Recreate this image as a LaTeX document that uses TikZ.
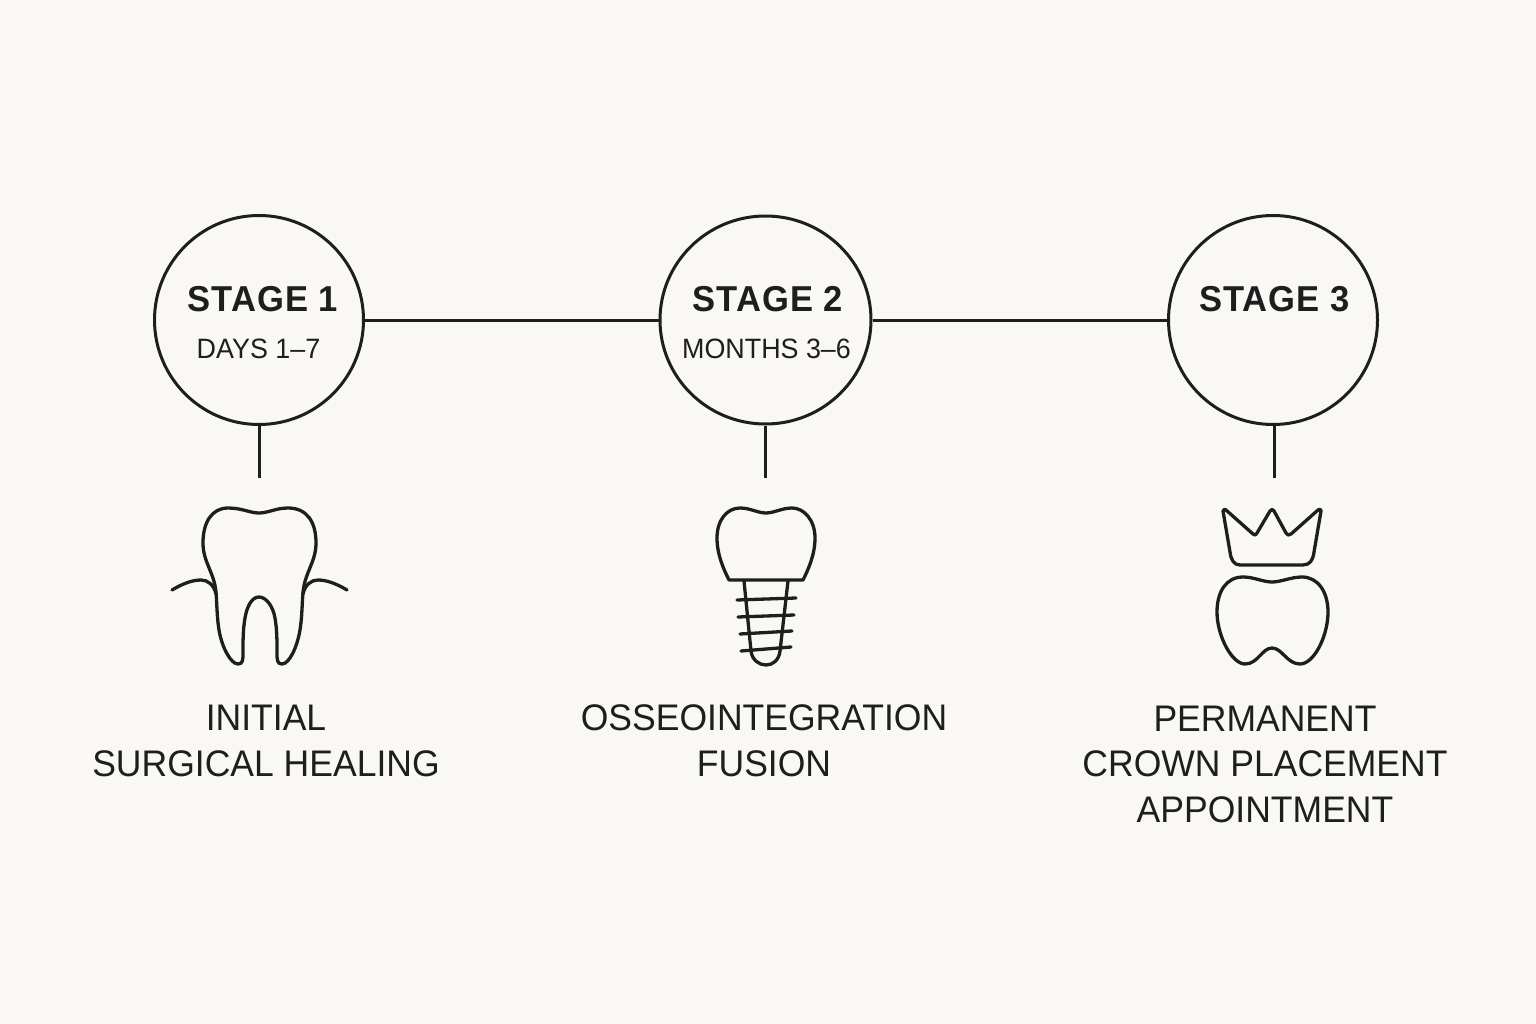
\documentclass[tikz,border=0pt]{standalone}
\usepackage{fontspec}
\usetikzlibrary{shapes.geometric}
\setmainfont{Liberation Sans}
\definecolor{paper}{HTML}{FAF8F4}
\definecolor{ink}{HTML}{1E1E1E}
\newfontfamily\labelfont[FakeStretch=0.96]{Liberation Sans}
\newfontfamily\headfont[FakeStretch=0.96,LetterSpace=2.8]{Liberation Sans}
\tikzset{
  stagecircle/.style={circle,draw=ink,line width=3pt,minimum size=209pt,inner sep=0pt},
  stageoval/.style={ellipse,draw=ink,line width=3pt,minimum width=211pt,minimum height=208pt,inner sep=0pt},
  link/.style={draw=ink,line width=3pt},
  icon/.style={draw=ink,line width=3.3pt,line join=round,line cap=round},
  head/.style={text=ink,inner sep=0pt,anchor=base,font=\headfont\bfseries\fontsize{36}{36}\selectfont},
  sub/.style={text=ink,inner sep=0pt,anchor=base,font=\labelfont\fontsize{28}{28}\selectfont},
  caption/.style={text=ink,inner sep=0pt,align=center,anchor=base,font=\labelfont\fontsize{37}{45.5}\selectfont},
}
\begin{document}
\begin{tikzpicture}[x=1pt,y=-1pt]
\useasboundingbox[fill=paper] (0,0) rectangle (1536,1024);
\node[stagecircle] (c1) at (259,320) {};
\node[stageoval] (c2) at (765.5,320) {};
\node[stagecircle] (c3) at (1273,320) {};
\draw[link] (c1) -- (c2);
\draw[link] (c2) -- (c3);
\coordinate (e1) at (259.5,478);
\coordinate (e2) at (765.5,478);
\coordinate (e3) at (1274.5,478);
\draw[link] (c1.south -| e1) -- (e1);
\draw[link] (c2.south) -- (e2);
\draw[link] (c3.south -| e3) -- (e3);
\node[head] (h1) at (263,311) {STAGE 1};
\node[head] (h2) at (768,311) {STAGE 2};
\node[head] (h3) at (1274.5,311) {STAGE 3};
\node[sub] (s1) at (258.5,358) {DAYS 1–7};
\node[sub] (s2) at (766.5,358) {MONTHS 3–6};
\node[caption] (t1) at (266,776) {INITIAL\\SURGICAL HEALING};
\node[caption] (t2) at (764,776) {OSSEOINTEGRATION\\FUSION};
\node[caption] (t3) at (1265,822) {PERMANENT\\CROWN PLACEMENT\\APPOINTMENT};
% tooth
\draw[icon] (259,513) .. controls (250,513) and (242,508) .. (228,508)
  .. controls (212,508) and (203,522) .. (203,543)
  .. controls (203,562) and (214,572) .. (216,592)
  .. controls (217,605) and (217,618) .. (219,630)
  .. controls (222,648) and (231,664) .. (238,664)
  .. controls (243,664) and (243,660) .. (243,652)
  .. controls (243,640) and (243,630) .. (245,618)
  .. controls (247,606) and (252,597) .. (259,597)
  .. controls (266,597) and (273,606) .. (275,618)
  .. controls (277,630) and (277,640) .. (277,652)
  .. controls (277,660) and (277,664) .. (282,664)
  .. controls (289,664) and (297,648) .. (300,630)
  .. controls (302,618) and (302,605) .. (303,592)
  .. controls (305,572) and (316,562) .. (316,543)
  .. controls (316,522) and (307,508) .. (288,508)
  .. controls (276,508) and (268,513) .. (259,513) -- cycle;
\draw[icon] (172,590) .. controls (182,584) and (192,580) .. (201,580)
  .. controls (208,580) and (214,585) .. (216,594);
\draw[icon] (347,590) .. controls (337,584) and (327,580) .. (318,580)
  .. controls (311,580) and (305,585) .. (303,594);
% implant
\draw[icon] (766,513) .. controls (758,513) and (750,508) .. (740,508)
  .. controls (727,508) and (717,520) .. (717,538)
  .. controls (717,555) and (724,570) .. (729,580) -- (803,580)
  .. controls (808,570) and (815,555) .. (815,538)
  .. controls (815,520) and (804,508) .. (792,508)
  .. controls (782,508) and (774,513) .. (766,513) -- cycle;
\draw[icon] (744,581) -- (751,651) .. controls (752,660) and (759,665) .. (766,665)
  .. controls (773,665) and (779,660) .. (780,651) -- (788,581);
\draw[icon] (737,600) -- (796,598);
\draw[icon] (738,617) -- (794,615);
\draw[icon] (740,634) -- (792,631);
\draw[icon] (741,651) -- (791,647);
% crown
\draw[icon] (1223,511) .. controls (1224,509) and (1225,509) .. (1226,510)
  -- (1253,534) .. controls (1255,536) and (1256,535) .. (1257,533)
  -- (1270,511) .. controls (1271,509) and (1273,509) .. (1274,511)
  -- (1286,533) .. controls (1287,535) and (1289,536) .. (1291,534)
  -- (1318,510) .. controls (1320,509) and (1321,509) .. (1321,511)
  -- (1314,552) .. controls (1313,560) and (1310,565) .. (1303,565)
  -- (1240,565) .. controls (1234,565) and (1231,560) .. (1230,552) -- cycle;
% lower tooth
\draw[icon] (1272,582) .. controls (1263,582) and (1254,577) .. (1243,577)
  .. controls (1226,577) and (1217,592) .. (1217,612)
  .. controls (1217,636) and (1232,664) .. (1245,664)
  .. controls (1258,664) and (1262,648) .. (1272,648)
  .. controls (1282,648) and (1287,664) .. (1300,664)
  .. controls (1314,664) and (1328,636) .. (1328,612)
  .. controls (1328,592) and (1318,577) .. (1302,577)
  .. controls (1291,577) and (1281,582) .. (1272,582) -- cycle;
\end{tikzpicture}
\end{document}
